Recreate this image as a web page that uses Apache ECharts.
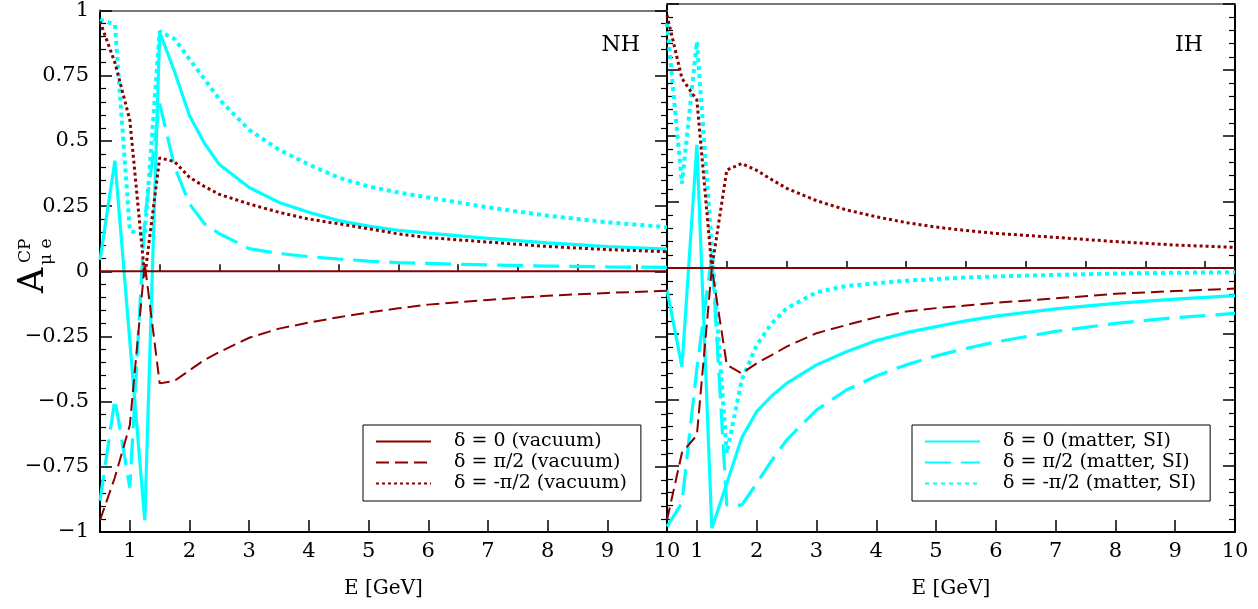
<!DOCTYPE html>
<html><head><meta charset="utf-8">
<script src="https://cdn.jsdelivr.net/npm/echarts@6/dist/echarts.min.js"></script>
<style>html,body{margin:0;padding:0;background:#fff}#c{width:1258px;height:609px}</style>
</head><body><div id="c"></div>
<script>
// Energy grid (GeV)
const energies = [0.5, 0.75, 1, 1.25, 1.5, 1.75, 2, 2.25, 2.5, 3, 3.5, 4, 4.5, 5, 5.5, 6, 7, 8, 9, 10];
const xTickValues = [1, 2, 3, 4, 5, 6, 7, 8, 9, 10];
const xMinorTickValues = [1.5, 2.5, 3.5, 4.5, 5.5, 6.5, 7.5, 8.5, 9.5];
const panelLabels = ['NH', 'IH'];
const seriesNames = ['δ = 0 (vacuum)', 'δ = π/2 (vacuum)', 'δ = -π/2 (vacuum)',
                     'δ = 0 (matter, SI)', 'δ = π/2 (matter, SI)', 'δ = -π/2 (matter, SI)'];

// NH panel
const nhVac0      = [0,0,0,0,0,0,0,0,0,0,0,0,0,0,0,0,0,0,0,0];
const nhVacPi2    = [-0.955,-0.79,-0.59,0.03,-0.43,-0.42,-0.38,-0.34,-0.31,-0.255,-0.22,-0.197,-0.176,-0.158,-0.142,-0.128,-0.11,-0.094,-0.083,-0.075];
const nhVacMPi2   = [0.958,0.80,0.58,-0.02,0.435,0.42,0.36,0.325,0.295,0.258,0.226,0.2,0.182,0.163,0.143,0.129,0.112,0.095,0.083,0.075];
const nhMat0      = [0.043,0.424,-0.27,-0.955,0.917,0.765,0.596,0.491,0.409,0.321,0.264,0.226,0.194,0.173,0.157,0.146,0.126,0.109,0.095,0.085];
const nhMatPi2    = [-0.88,-0.49,-0.83,0.2,0.643,0.40,0.258,0.182,0.144,0.087,0.068,0.056,0.047,0.039,0.033,0.03,0.024,0.02,0.017,0.015];
const nhMatMPi2   = [0.965,0.946,0.155,0.14,0.92,0.891,0.813,0.737,0.659,0.542,0.466,0.409,0.359,0.325,0.302,0.283,0.245,0.213,0.188,0.169];

// IH panel
const ihVac0      = [0,0,0,0,0,0,0,0,0,0,0,0,0,0,0,0,0,0,0,0];
const ihVacPi2    = [-0.955,-0.70,-0.633,0.0,-0.367,-0.399,-0.361,-0.33,-0.298,-0.247,-0.216,-0.187,-0.165,-0.152,-0.142,-0.132,-0.115,-0.098,-0.087,-0.078];
const ihVacMPi2   = [0.958,0.718,0.636,0.0,0.371,0.396,0.37,0.335,0.302,0.255,0.22,0.194,0.172,0.155,0.142,0.131,0.116,0.1,0.087,0.078];
const ihMat0      = [-0.083,-0.374,0.466,-0.986,-0.816,-0.643,-0.544,-0.485,-0.437,-0.367,-0.317,-0.275,-0.245,-0.222,-0.2,-0.182,-0.155,-0.134,-0.118,-0.105];
const ihMatPi2    = [-0.98,-0.89,-0.38,0.05,-0.898,-0.898,-0.816,-0.73,-0.652,-0.538,-0.462,-0.409,-0.367,-0.333,-0.305,-0.28,-0.24,-0.21,-0.188,-0.172];
const ihMatMPi2   = [0.927,0.32,0.857,0.08,-0.702,-0.424,-0.292,-0.21,-0.153,-0.092,-0.068,-0.058,-0.048,-0.042,-0.036,-0.032,-0.026,-0.021,-0.018,-0.016];

const FONT = 'DejaVu Serif';
const RED = '#8b0000', CYAN = '#00ffff';
const styles = [
  {color: RED, width: 2, type: 'solid'},
  {color: RED, width: 2, type: [13, 6]},
  {color: RED, width: 3, type: [3, 3]},
  {color: CYAN, width: 3.2, type: 'solid'},
  {color: CYAN, width: 3.2, type: [26, 10]},
  {color: CYAN, width: 4, type: [4, 4]}
];
const panels = [
  [nhVac0, nhVacPi2, nhVacMPi2, nhMat0, nhMatPi2, nhMatMPi2],
  [ihVac0, ihVacPi2, ihVacMPi2, ihMat0, ihMatPi2, ihMatMPi2]
];

const grids = [
  {left: 100, top: 4, width: 567, bottom: 77},
  {left: 667, top: 4, width: 568, bottom: 77}
];

const xAxes = [], yAxes = [];
[0, 1].forEach(g => {
  xAxes.push({
    gridIndex: g, type: 'value', min: 0.5, max: 10, position: 'bottom',
    axisLine: {onZero: false, lineStyle: {color: '#000', width: 2}},
    axisTick: {inside: true, length: 12, customValues: xTickValues, lineStyle: {color: '#000', width: 1.5}},
    axisLabel: {customValues: xTickValues, color: '#000', fontFamily: FONT, fontSize: 21, margin: 9},
    splitLine: {show: false},
    name: 'E [GeV]', nameLocation: 'middle', nameGap: 47,
    nameTextStyle: {color: '#000', fontFamily: FONT, fontSize: 20}
  });
  xAxes.push({
    gridIndex: g, type: 'value', min: 0.5, max: 10, position: 'bottom',
    axisLine: {show: false},
    axisTick: {inside: true, length: 7, customValues: xMinorTickValues, lineStyle: {color: '#000', width: 1.5}},
    axisLabel: {show: false}, splitLine: {show: false}
  });
  xAxes.push({
    gridIndex: g, type: 'value', min: 0.5, max: 10, position: 'top',
    axisLine: {onZero: false, lineStyle: {color: '#777', width: 2}},
    axisTick: {show: false}, axisLabel: {show: false}, splitLine: {show: false}
  });
  ['left', 'right'].forEach(pos => {
    yAxes.push({
      gridIndex: g, type: 'value', min: -1, max: 1, interval: 0.25, position: pos,
      axisLine: {onZero: false, show: true, lineStyle: {color: '#000', width: 2}},
      axisTick: {inside: true, length: 12, lineStyle: {color: '#000', width: 1.5}},
      minorTick: {show: true, splitNumber: 5, length: 6, lineStyle: {color: '#000', width: 1.2}},
      axisLabel: {
        show: g === 0 && pos === 'left', color: '#000', fontFamily: FONT, fontSize: 21, margin: 11,
        formatter: v => v < 0 ? '\u2212' + String(Math.abs(v)) : String(v)
      },
      splitLine: {show: false}
    });
  });
});

const series = [];
panels.forEach((arrs, g) => {
  arrs.forEach((vals, i) => {
    series.push({
      name: seriesNames[i], type: 'line', xAxisIndex: g * 3, yAxisIndex: g * 2,
      data: energies.map((e, k) => [e, vals[k]]),
      showSymbol: false, symbol: 'none', clip: true, smooth: false,
      lineStyle: {color: styles[i].color, width: styles[i].width, type: styles[i].type, cap: 'butt'},
      itemStyle: {color: styles[i].color},
      z: i < 3 ? 3 : 2, animation: false
    });
  });
});

const legendCommon = {
  orient: 'vertical', selectedMode: false, itemWidth: 55, itemHeight: 14, itemGap: 2,
  backgroundColor: '#fff', borderColor: '#000', borderWidth: 1, padding: [7, 14, 8, 12],
  itemStyle: {color: 'rgba(0,0,0,0)', borderWidth: 0, opacity: 0},
  textStyle: {color: '#000', fontFamily: FONT, fontSize: 19, padding: [0, 0, 0, 18]}
};

const option = {
  animation: false,
  backgroundColor: '#fff',
  grid: grids,
  xAxis: xAxes,
  yAxis: yAxes,
  legend: [
    Object.assign({left: 363, top: 425, data: seriesNames.slice(0, 3)}, legendCommon),
    Object.assign({left: 912, top: 425, data: seriesNames.slice(3)}, legendCommon)
  ],
  graphic: [
    {type: 'text', x: 640, y: 45, style: {text: panelLabels[0], fill: '#000', font: '22px "' + FONT + '"', align: 'right', verticalAlign: 'middle'}},
    {type: 'text', x: 1203, y: 45, style: {text: panelLabels[1], fill: '#000', font: '22px "' + FONT + '"', align: 'right', verticalAlign: 'middle'}},
    {type: 'group', x: 51, y: 293, rotation: Math.PI / 2, children: [
      {type: 'text', x: 0, y: 0, style: {text: 'A', fill: '#000', font: '35px "' + FONT + '"', verticalAlign: 'bottom'}},
      {type: 'text', x: 28, y: 4, style: {text: 'μ e', fill: '#000', font: '17px "' + FONT + '"', verticalAlign: 'bottom'}},
      {type: 'text', x: 30, y: -17, style: {text: 'CP', fill: '#000', font: '17px "' + FONT + '"', verticalAlign: 'bottom'}}
    ]}
  ],
  series: series
};

const chart = echarts.init(document.getElementById('c'), null, {renderer: 'canvas'});
chart.setOption(option);
</script>
</body></html>
